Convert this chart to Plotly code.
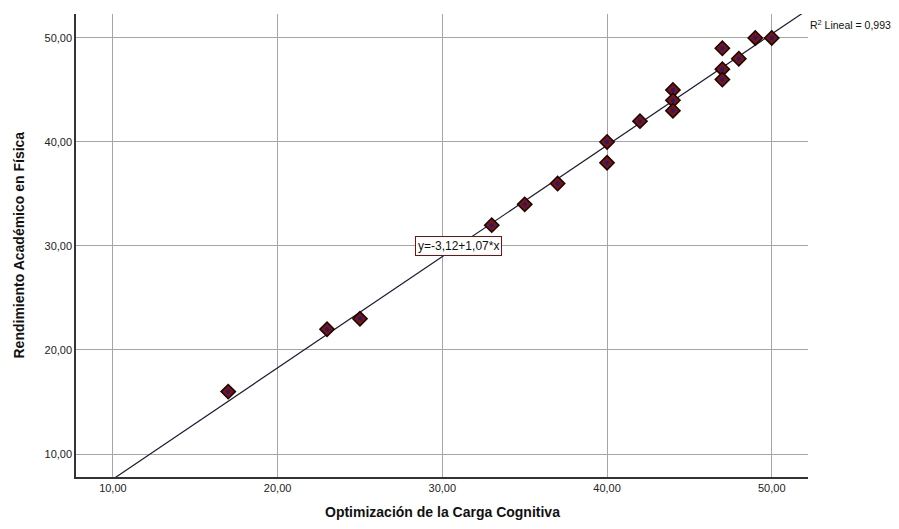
import plotly.graph_objects as go

# Data
x_vals = [17, 23, 25, 33, 35, 37, 40, 40, 42, 44, 44, 44, 47, 47, 47, 48, 49, 50]
y_vals = [16, 22, 23, 32, 34, 36, 40, 38, 42, 45, 44, 43, 49, 47, 46, 48, 50, 50]
intercept = -3.12
slope = 1.07
r2 = 0.993
x_range = [7.76, 52.2]
y_range = [7.79, 52.3]
tick_vals = [10, 20, 30, 40, 50]
tick_text = ["10,00", "20,00", "30,00", "40,00", "50,00"]
x_title = "Optimización de la Carga Cognitiva"
y_title = "Rendimiento Académico en Física"

font_family = "Arial, Liberation Sans, sans-serif"

L, R, T, B = 76, 91, 14, 52
W, H = 899, 529
pw, ph = W - L - R, H - T - B

fig = go.Figure()

# Regression line
lx = [x_range[0], x_range[1]]
ly = [intercept + slope * v for v in lx]
fig.add_trace(go.Scatter(x=lx, y=ly, mode="lines",
                         line=dict(color="#1b1b33", width=1.2),
                         hoverinfo="skip", showlegend=False))

# Points
fig.add_trace(go.Scatter(x=x_vals, y=y_vals, mode="markers",
                         marker=dict(symbol="diamond", size=11, color="#741414",
                                     line=dict(color="#1a0505", width=1.5)),
                         showlegend=False))
fig.add_trace(go.Scatter(x=x_vals, y=y_vals, mode="markers",
                         marker=dict(symbol="circle", size=4, color="#1a1a80",
                                     line=dict(width=0)),
                         hoverinfo="skip", showlegend=False))

axis_common = dict(
    showgrid=True, gridcolor="#a6a6a6", gridwidth=1,
    zeroline=False, showline=True, linecolor="#333333", linewidth=1.5,
    ticks="", tickfont=dict(family=font_family, size=11, color="#222222"),
    tickvals=tick_vals, ticktext=tick_text, automargin=False,
)

fig.update_xaxes(range=x_range, **axis_common)
fig.update_yaxes(range=y_range, **axis_common)

# Axis titles
fig.add_annotation(x=0.5, y=(T + ph - 512) / ph, xref="paper", yref="paper",
                   text="<b>" + x_title + "</b>", showarrow=False,
                   xanchor="center", yanchor="middle",
                   font=dict(family=font_family, size=14, color="#111111"))
fig.add_annotation(x=(18 - L) / pw, y=0.5, xref="paper", yref="paper",
                   text="<b>" + y_title + "</b>", showarrow=False, textangle=-90,
                   xanchor="center", yanchor="middle",
                   font=dict(family=font_family, size=14, color="#111111"))

# Equation label
fig.add_annotation(x=30.97, y=30.0, xref="x", yref="y",
                   text="y=-3,12+1,07*x", showarrow=False,
                   font=dict(family=font_family, size=12, color="#111111"),
                   bgcolor="white", bordercolor="#7a1010", borderwidth=1, borderpad=2)

# R2 label
r2_text = "R<sup>2</sup> Lineal = " + f"{r2:.3f}".replace(".", ",")
fig.add_annotation(x=1.0, y=(T + ph - 24) / ph, xref="paper", yref="paper",
                   xanchor="left", yanchor="middle",
                   text=r2_text, showarrow=False,
                   font=dict(family=font_family, size=10.5, color="#111111"))

fig.update_layout(
    width=W, height=H,
    margin=dict(l=L, r=R, t=T, b=B),
    paper_bgcolor="white", plot_bgcolor="white",
    font=dict(family=font_family),
)

fig.write_html("out.html", config={"displayModeBar": False},
               post_script="document.body.style.margin='0';document.body.style.padding='0';")
